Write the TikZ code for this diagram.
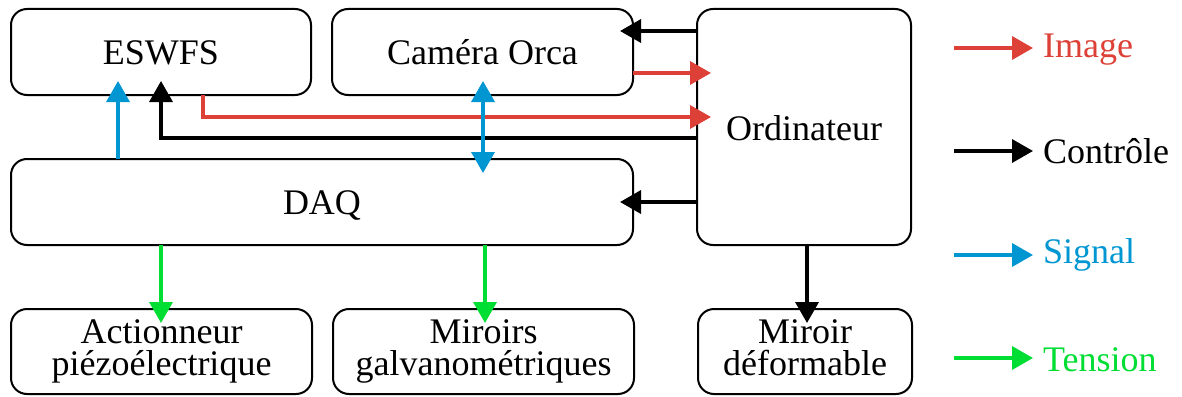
\documentclass[tikz,border=0pt]{standalone}
\usepackage{fontspec}
\setmainfont{Liberation Serif}
\usetikzlibrary{arrows.meta,calc}
\definecolor{cimg}{HTML}{DD4037}
\definecolor{csig}{HTML}{0096D2}
\definecolor{cten}{HTML}{00DD33}
\definecolor{cctl}{HTML}{000000}
\begin{document}
\begin{tikzpicture}[x=1pt,y=-1pt,
  box/.style={draw, line width=2pt, rounded corners=16pt, inner sep=0pt, outer sep=0pt,
    font=\fontsize{36}{32}\selectfont, align=center},
  one/.style={box, text height=24.5pt, text depth=0pt},
  two/.style={box},
  plain/.style={inner sep=0pt, font=\fontsize{36}{32}\selectfont, text height=24.5pt, text depth=0pt},
  conn/.style={line width=3.5pt, -{Triangle[length=21pt,width=23pt]}},
  img/.style={conn, draw=cimg},
  ctl/.style={conn, draw=cctl},
  sig/.style={conn, draw=csig},
  ten/.style={conn, draw=cten},
  leg/.style={plain, anchor=west}
]
\useasboundingbox (0,0) rectangle (1182,396);

% boxes
\node[one, minimum width=300pt, minimum height=86pt] (eswfs) at (161,52) {ESWFS};
\node[one, minimum width=301pt, minimum height=86pt] (camera) at (482.5,52) {Caméra Orca};
\node[box, minimum width=214pt, minimum height=236pt] (ordi) at (804,127) {};
\node[plain] (ordilbl) at (804,128) {Ordinateur};
\node[one, minimum width=622pt, minimum height=86pt] (daq) at (322,202) {DAQ};
\node[two, minimum width=301pt, minimum height=85pt] (act) at (161.5,351.5)
  {\rule{0pt}{24pt}Actionneur\\piézoélectrique\rule[-8pt]{0pt}{8pt}};
\node[two, minimum width=301pt, minimum height=85pt] (galv) at (483.5,351.5)
  {\rule{0pt}{24pt}Miroirs\\galvanométriques\rule[-8pt]{0pt}{8pt}};
\node[two, minimum width=214pt, minimum height=85pt] (miroir) at (805,351.5)
  {\rule{0pt}{24pt}Miroir\\déformable\rule[-8pt]{0pt}{8pt}};

% helper coordinates
\coordinate (xb1) at (118,0);
\coordinate (yk1) at (0,138);
\coordinate (xr1) at (203,117);
\coordinate (yr2) at (0,73);
\coordinate (yk2) at (0,31);
\coordinate (yk3) at (0,202);
\coordinate (xb2) at (483,0);
\coordinate (xg1) at (161,0);
\coordinate (xg2) at (485,0);
\coordinate (xk4) at (807,0);

% connectors
\draw[sig] (daq.north -| xb1) -- ([yshift=14pt]eswfs.south -| xb1);
\draw[ctl] (ordi.west |- yk1) -| ([yshift=14pt]eswfs.south);
\draw[img] (eswfs.south -| xr1) |- ([xshift=14pt]ordi.west |- xr1);
\draw[img] (camera.east |- yr2) -- ([xshift=14pt]ordi.west |- yr2);
\draw[ctl] (ordi.west |- yk2) -- ([xshift=-13pt]camera.east |- yk2);
\draw[ctl] (ordi.west |- yk3) -- ([xshift=-13pt]daq.east |- yk3);
\draw[sig, {Triangle[length=21pt,width=23pt]}-{Triangle[length=21pt,width=23pt]}]
  ([yshift=14pt]camera.south -| xb2) -- ([yshift=-14pt]daq.north -| xb2);
\draw[ten] (daq.south -| xg1) -- ([yshift=-14pt]act.north -| xg1);
\draw[ten] (daq.south -| xg2) -- ([yshift=-14pt]galv.north -| xg2);
\draw[ctl] (ordi.south -| xk4) -- ([yshift=-14pt]miroir.north -| xk4);

% legend
\node[leg, text=cimg] (limg) at (1043,45) {Image};
\node[leg, text=cctl] (lctl) at (1043,151.5) {Contrôle};
\node[leg, text=csig] (lsig) at (1043,251) {Signal};
\node[leg, text=cten] (lten) at (1043,359.5) {Tension};
\coordinate (a1) at (954,48);  \coordinate (b1) at (1033,48);
\coordinate (a2) at (954,151); \coordinate (b2) at (1033,151);
\coordinate (a3) at (954,255); \coordinate (b3) at (1033,255);
\coordinate (a4) at (954,358); \coordinate (b4) at (1033,358);
\draw[img] (a1) -- (b1);
\draw[ctl] (a2) -- (b2);
\draw[sig] (a3) -- (b3);
\draw[ten] (a4) -- (b4);
\end{tikzpicture}
\end{document}
